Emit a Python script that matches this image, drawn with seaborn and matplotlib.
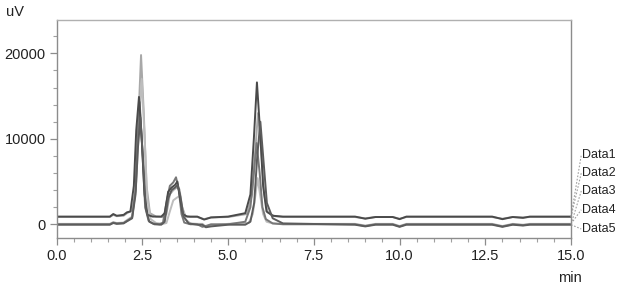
import numpy as np
import pandas as pd
import matplotlib
matplotlib.use("Agg")
import matplotlib.pyplot as plt
from matplotlib.ticker import MultipleLocator, FixedLocator
import seaborn as sns

# ---- data ----
series_names = ["Data1", "Data2", "Data3", "Data4", "Data5"]

t1 = [0, 1.55, 1.65, 1.75, 1.95, 2.05, 2.15, 2.25, 2.32, 2.40, 2.48, 2.56, 2.65, 2.8, 3.05, 3.15, 3.25, 3.35,
      3.45, 3.52, 3.60, 3.68, 3.8, 4.1, 4.3, 4.5, 5.0, 5.5, 5.65, 5.75, 5.84, 5.93, 6.02, 6.12, 6.3, 6.6,
      8.7, 9.0, 9.3, 9.8, 10.0, 10.2, 12.7, 13.0, 13.3, 13.6, 13.8, 15.0]
v1 = [900, 900, 1200, 1000, 1100, 1400, 1500, 4500, 11000, 14900, 10000, 3500, 1100, 900, 900, 1300, 3800, 4300,
      4600, 5000, 3000, 1200, 900, 900, 550, 800, 900, 1300, 3500, 10000, 16600, 11000, 4500, 1500, 1000, 900,
      900, 650, 850, 850, 600, 900, 900, 600, 850, 750, 900, 900]

t2 = [0, 1.55, 1.65, 1.75, 1.95, 2.05, 2.2, 2.3, 2.38, 2.46, 2.54, 2.62, 2.72, 2.9, 3.1, 3.2, 3.3, 3.4,
      3.5, 3.58, 3.66, 3.75, 3.9, 4.1, 4.3, 4.5, 5.0, 5.55, 5.7, 5.79, 5.87, 5.96, 6.05, 6.15, 6.35, 6.6,
      8.7, 9.0, 9.3, 9.8, 10.0, 10.2, 12.7, 13.0, 13.3, 13.6, 13.8, 15.0]
v2 = [850, 850, 1100, 950, 1000, 1300, 1600, 4000, 12000, 19800, 13000, 4500, 1300, 900, 850, 1200, 3500, 4000,
      4300, 4100, 2000, 1000, 850, 850, 600, 800, 850, 1200, 3500, 8500, 13000, 9000, 3500, 1400, 950, 850,
      850, 700, 850, 850, 650, 850, 850, 650, 850, 800, 850, 850]

t3 = [0, 1.55, 1.65, 1.75, 1.95, 2.05, 2.2, 2.3, 2.36, 2.42, 2.5, 2.58, 2.68, 2.8, 3.0, 3.1, 3.2, 3.3,
      3.4, 3.48, 3.56, 3.64, 3.72, 3.9, 4.1, 4.25, 4.35, 4.5, 5.0, 5.5, 5.65, 5.75, 5.83, 5.92, 6.0, 6.1,
      6.3, 6.6, 8.7, 9.0, 9.3, 9.8, 10.0, 10.2, 12.7, 13.0, 13.3, 13.6, 13.8, 15.0]
v3 = [0, 0, 200, 100, 150, 400, 800, 4000, 10000, 14300, 8500, 2000, 400, 100, 0, 200, 2500, 4500,
      4900, 5500, 4000, 1200, 200, 0, 0, -300, -200, 0, 0, 300, 2000, 6000, 9500, 6000, 2000, 600,
      100, 0, 0, -200, 0, 0, -250, 0, 0, -250, 0, -100, 0, 0]

t4 = [0, 1.55, 1.65, 1.75, 1.95, 2.05, 2.2, 2.32, 2.40, 2.48, 2.56, 2.64, 2.74, 2.9, 3.1, 3.2, 3.3, 3.4,
      3.5, 3.58, 3.66, 3.75, 3.9, 4.1, 4.25, 4.35, 4.5, 5.0, 5.6, 5.72, 5.80, 5.86, 5.93, 6.02, 6.12, 6.3,
      6.6, 8.7, 9.0, 9.3, 9.8, 10.0, 10.2, 12.7, 13.0, 13.3, 13.6, 13.8, 15.0]
v4 = [50, 50, 250, 150, 200, 500, 900, 5000, 11500, 17000, 10500, 3000, 600, 150, 50, 150, 1500, 2800,
      3100, 3300, 2000, 600, 100, 50, 50, -250, -150, 50, 150, 1200, 3500, 5400, 3500, 1200, 300, 100,
      50, 50, -150, 50, 50, -200, 50, 50, -200, 50, -50, 50, 50]

t5 = [0, 1.55, 1.65, 1.75, 1.95, 2.05, 2.2, 2.3, 2.37, 2.44, 2.52, 2.6, 2.7, 2.85, 3.05, 3.15, 3.25, 3.35,
      3.45, 3.53, 3.61, 3.7, 3.85, 4.1, 4.25, 4.35, 4.5, 5.0, 5.5, 5.65, 5.76, 5.85, 5.94, 6.03, 6.13, 6.3,
      6.6, 8.7, 9.0, 9.3, 9.8, 10.0, 10.2, 12.7, 13.0, 13.3, 13.6, 13.8, 15.0]
v5 = [-50, -50, 150, 50, 100, 350, 700, 3500, 9000, 12500, 7500, 1800, 300, 0, -50, 300, 3000, 4000,
      4300, 4600, 3200, 900, 100, -50, -50, -350, -250, -50, -50, 300, 2500, 8000, 12000, 7500, 2500, 700,
      100, -50, -250, -50, -50, -300, -50, -50, -300, -50, -150, -50, -50]

legend_label_y = [8100, 6000, 3900, 1700, -550]

# ---- build long-form table ----
frames = []
for name, t, v in zip(series_names, [t1, t2, t3, t4, t5], [v1, v2, v3, v4, v5]):
    frames.append(pd.DataFrame({"time": t, "uV": v, "series": name}))
df = pd.concat(frames, ignore_index=True)

sns.set_theme(style="white")
plt.rcParams["font.family"] = ["Liberation Sans", "DejaVu Sans"]

palette = {"Data1": "#4a4a4a", "Data2": "#a8a8a8", "Data3": "#787878",
           "Data4": "#bdbdbd", "Data5": "#5c5c5c"}
draw_order = ["Data2", "Data4", "Data3", "Data1", "Data5"]

fig = plt.figure(figsize=(6.19, 2.88), dpi=100)
ax = fig.add_axes([56.7 / 619, 1 - 238.3 / 288, (571 - 56.7) / 619, (238.3 - 20) / 288])

sns.lineplot(data=df, x="time", y="uV", hue="series", hue_order=draw_order, palette=palette,
             estimator=None, sort=False, legend=False, linewidth=1.4, ax=ax)

ax.set_xlim(0, 15)
ax.set_ylim(-1640, 23900)
ax.set_xlabel("")
ax.set_ylabel("")

ax.xaxis.set_major_locator(MultipleLocator(2.5))
ax.xaxis.set_minor_locator(MultipleLocator(0.5))
ax.yaxis.set_major_locator(FixedLocator([0, 10000, 20000]))
ax.yaxis.set_minor_locator(MultipleLocator(2000))
ax.xaxis.set_major_formatter(matplotlib.ticker.FormatStrFormatter("%.1f"))

spine_col = "#8c8c8c"
for s in ax.spines.values():
    s.set_color(spine_col)
    s.set_linewidth(1.0)
ax.spines["top"].set_color("#b0b0b0")
ax.tick_params(axis="both", which="major", direction="out", length=5, width=0.9,
               color=spine_col, labelsize=10.5, labelcolor="#222222", pad=3)
ax.tick_params(axis="both", which="minor", direction="out", length=3, width=0.8, color="#a0a0a0")
ax.tick_params(axis="x", which="both", bottom=True)
ax.tick_params(axis="y", which="both", left=True)

# legend labels with dotted leader lines at right
end_vals = [v1[-1], v2[-1], v3[-1], v4[-1], v5[-1]]
for name, ev, ly in zip(series_names, end_vals, legend_label_y):
    ax.plot([15.0, 15.30], [ev, ly], linestyle=(0, (1.5, 1.5)), color="#a0a0a0",
            linewidth=0.8, clip_on=False)
    ax.text(15.32, ly, name, ha="left", va="center", fontsize=9, color="#222222", clip_on=False)

fig.text(6 / 619, 1 - 12 / 288, "uV", ha="left", va="center", fontsize=10.5, color="#222222")
fig.text(570 / 619, 1 - 278 / 288, "min", ha="center", va="center", fontsize=10.5, color="#222222")

fig.savefig("out.png", dpi=100, facecolor="white")
